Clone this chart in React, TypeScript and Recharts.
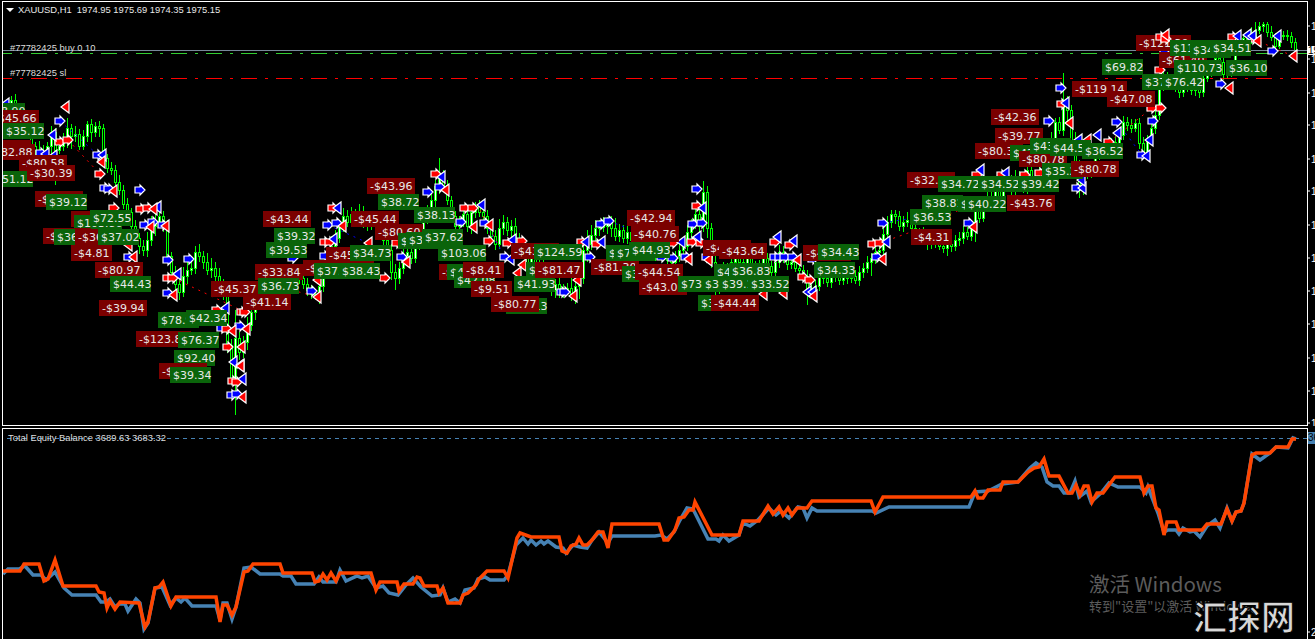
import React from "react";
import {
  Bar,
  ComposedChart,
  Line,
  ReferenceLine,
  Scatter,
  XAxis,
  YAxis,
} from "recharts";

const WIDTH = 1315;
const UI_FONT = '"Liberation Sans", sans-serif';
const TAG_FONT = '"DejaVu Sans", sans-serif';

// H1 candles, one every four quarter-hours on the time axis
const FIRST_TIME = 3;
const BAR_STEP = 4;

const closes = [
  1962.8,1963.6,1965.2,1964.0,1961.6,1960.0,1958.4,1956.0,1955.2,1954.0,
  1954.8,1956.0,1958.8,1955.2,1956.0,1957.2,1959.6,1958.0,1958.4,1956.0,
  1958.0,1960.4,1958.8,1960.0,1959.6,1953.6,1951.6,1951.2,1948.8,1947.2,
  1944.4,1942.8,1940.0,1937.6,1936.0,1935.2,1937.2,1940.0,1940.8,1942.0,
  1940.0,1934.0,1930.8,1928.4,1926.8,1930.0,1931.2,1931.6,1934.8,1934.0,
  1932.8,1931.2,1931.6,1930.0,1928.4,1926.4,1916.2,1909.6,1917.6,1914.8,
  1916.8,1920.2,1922.8,1925.2,1924.4,1926.0,1927.2,1927.6,1928.0,1928.8,
  1930.0,1930.8,1929.2,1930.4,1929.6,1928.4,1927.2,1926.4,1926.0,1928.0,
  1931.2,1932.8,1936.0,1937.6,1940.0,1942.0,1940.8,1942.4,1941.2,1942.8,
  1940.8,1940.0,1941.2,1940.0,1939.2,1937.2,1935.2,1930.8,1929.6,1931.6,
  1934.0,1934.8,1933.6,1936.4,1938.0,1941.6,1943.2,1945.2,1948.0,1950.0,
  1948.2,1945.2,1942.0,1940.0,1940.8,1942.4,1940.0,1942.8,1944.0,1942.8,
  1942.0,1939.6,1938.0,1936.4,1939.6,1940.8,1939.2,1940.0,1937.6,1936.0,
  1935.2,1932.8,1934.0,1931.6,1932.8,1930.0,1928.4,1927.2,1928.4,1926.8,
  1927.2,1927.6,1926.0,1928.0,1929.6,1935.2,1936.4,1938.2,1939.6,1940.0,
  1940.0,1940.8,1939.6,1938.0,1939.2,1937.6,1938.8,1937.2,1937.6,1936.0,
  1936.8,1935.2,1934.0,1934.8,1936.0,1934.4,1933.2,1932.8,1934.0,1935.2,
  1936.0,1938.8,1940.4,1942.4,1940.0,1946.8,1939.6,1932.8,1929.2,1928.0,
  1931.6,1930.0,1932.8,1934.8,1932.8,1931.2,1933.6,1932.0,1931.2,1932.0,
  1933.6,1932.0,1930.8,1932.8,1934.8,1933.6,1932.4,1932.8,1931.6,1931.2,
  1930.0,1927.2,1927.6,1928.0,1931.2,1929.6,1928.8,1930.0,1930.8,1929.2,
  1930.0,1929.6,1930.0,1929.2,1930.8,1931.6,1932.8,1933.6,1934.8,1935.2,
  1938.4,1940.8,1942.4,1942.0,1940.0,1940.8,1941.2,1939.6,1938.8,1938.8,
  1937.2,1936.4,1937.2,1936.8,1936.0,1935.6,1936.4,1936.0,1937.2,1937.6,
  1938.8,1938.0,1940.0,1943.6,1941.6,1944.8,1946.0,1945.6,1948.0,1946.0,
  1947.6,1949.2,1947.2,1950.0,1949.2,1947.6,1951.2,1949.6,1948.0,1950.4,
  1953.2,1955.6,1957.6,1960.8,1959.2,1965.2,1963.2,1957.2,1952.2,1947.2,
  1950.2,1950.8,1951.6,1954.2,1955.2,1955.2,1956.2,1956.8,1956.0,1958.2,
  1960.8,1960.2,1959.6,1960.6,1956.6,1954.8,1957.2,1959.6,1962.2,1968.2,
  1970.0,1969.2,1968.4,1967.6,1966.8,1968.0,1968.8,1967.2,1967.6,1966.8,
  1969.6,1970.8,1972.4,1973.6,1972.8,1970.4,1970.8,1972.4,1976.0,1976.8,
  1977.6,1977.2,1978.0,1979.2,1980.0,1980.4,1978.8,1977.8,1976.0,1978.0,
  1978.2,1978.0,1976.8,1975.15,
];

const opens = [
  1962.0,1962.8,1963.6,1965.2,1964.0,1961.6,1960.0,1958.4,1956.0,1955.2,
  1954.0,1954.8,1956.0,1958.8,1955.2,1956.0,1957.2,1959.6,1958.0,1958.4,
  1956.0,1958.0,1960.4,1958.8,1960.0,1959.6,1953.6,1951.6,1951.2,1948.8,
  1947.2,1944.4,1942.8,1940.0,1937.6,1936.0,1935.2,1937.2,1940.0,1940.8,
  1942.0,1940.0,1934.0,1930.8,1928.4,1926.8,1930.0,1931.2,1931.6,1934.8,
  1934.0,1932.8,1931.2,1931.6,1930.0,1928.4,1926.4,1916.2,1909.6,1917.6,
  1914.8,1916.8,1920.2,1922.8,1925.2,1924.4,1926.0,1927.2,1927.6,1928.0,
  1928.8,1930.0,1930.8,1929.2,1930.4,1929.6,1928.4,1927.2,1926.4,1926.0,
  1928.0,1931.2,1932.8,1936.0,1937.6,1940.0,1942.0,1940.8,1942.4,1941.2,
  1942.8,1940.8,1940.0,1941.2,1940.0,1939.2,1937.2,1935.2,1930.8,1929.6,
  1931.6,1934.0,1934.8,1933.6,1936.4,1938.0,1941.6,1943.2,1945.2,1948.0,
  1950.0,1948.2,1945.2,1942.0,1940.0,1940.8,1942.4,1940.0,1942.8,1944.0,
  1942.8,1942.0,1939.6,1938.0,1936.4,1939.6,1940.8,1939.2,1940.0,1937.6,
  1936.0,1935.2,1932.8,1934.0,1931.6,1932.8,1930.0,1928.4,1927.2,1928.4,
  1926.8,1927.2,1927.6,1926.0,1928.0,1929.6,1935.2,1936.4,1938.2,1939.6,
  1940.0,1940.0,1940.8,1939.6,1938.0,1939.2,1937.6,1938.8,1937.2,1937.6,
  1936.0,1936.8,1935.2,1934.0,1934.8,1936.0,1934.4,1933.2,1932.8,1934.0,
  1935.2,1936.0,1938.8,1940.4,1942.4,1940.0,1946.8,1939.6,1932.8,1929.2,
  1928.0,1931.6,1930.0,1932.8,1934.8,1932.8,1931.2,1933.6,1932.0,1931.2,
  1932.0,1933.6,1932.0,1930.8,1932.8,1934.8,1933.6,1932.4,1932.8,1931.6,
  1931.2,1930.0,1927.2,1927.6,1928.0,1931.2,1929.6,1928.8,1930.0,1930.8,
  1929.2,1930.0,1929.6,1930.0,1929.2,1930.8,1931.6,1932.8,1933.6,1934.8,
  1935.2,1938.4,1940.8,1942.4,1942.0,1940.0,1940.8,1941.2,1939.6,1938.8,
  1938.8,1937.2,1936.4,1937.2,1936.8,1936.0,1935.6,1936.4,1936.0,1937.2,
  1937.6,1938.8,1938.0,1940.0,1943.6,1941.6,1944.8,1946.0,1945.6,1948.0,
  1946.0,1947.6,1949.2,1947.2,1950.0,1949.2,1947.6,1951.2,1949.6,1948.0,
  1950.4,1953.2,1955.6,1957.6,1960.8,1959.2,1965.2,1963.2,1957.2,1952.2,
  1947.2,1950.2,1950.8,1951.6,1954.2,1955.2,1955.2,1956.2,1956.8,1956.0,
  1958.2,1960.8,1960.2,1959.6,1960.6,1956.6,1954.8,1957.2,1959.6,1962.2,
  1968.2,1970.0,1969.2,1968.4,1967.6,1966.8,1968.0,1968.8,1967.2,1967.6,
  1966.8,1969.6,1970.8,1972.4,1973.6,1972.8,1970.4,1970.8,1972.4,1976.0,
  1976.8,1977.6,1977.2,1978.0,1979.2,1980.0,1980.4,1978.8,1977.8,1976.0,
  1978.0,1978.2,1978.0,1976.8,
];

const highs = [
  1963.6,1965.2,1966.0,1966.4,1964.6,1962.8,1961.0,1959.8,1956.8,1957.0,
  1956.2,1956.8,1960.0,1959.6,1956.6,1958.6,1961.6,1960.4,1960.0,1959.4,
  1959.2,1961.0,1961.4,1960.8,1961.0,1960.4,1954.4,1952.8,1952.2,1950.2,
  1948.2,1945.6,1943.6,1941.2,1938.6,1937.2,1938.8,1942.0,1943.6,1943.6,
  1943.0,1941.2,1934.8,1932.0,1929.4,1931.8,1932.8,1932.8,1936.0,1936.4,
  1935.0,1934.6,1933.6,1932.8,1931.6,1929.4,1927.6,1917.4,1923.2,1918.8,
  1918.0,1921.8,1924.4,1926.4,1926.2,1927.2,1928.6,1928.6,1928.8,1930.0,
  1931.0,1932.0,1931.8,1931.6,1931.2,1930.6,1929.6,1928.2,1927.2,1929.2,
  1932.4,1934.2,1938.0,1939.2,1941.2,1943.6,1943.2,1943.8,1943.4,1944.4,
  1944.0,1941.8,1942.2,1942.4,1940.8,1940.4,1938.2,1936.4,1932.4,1932.8,
  1935.4,1936.0,1935.8,1937.6,1939.6,1942.8,1944.2,1946.6,1949.2,1953.6,
  1951.2,1949.2,1946.0,1943.0,1942.0,1944.0,1943.6,1943.8,1944.8,1945.2,
  1944.2,1943.2,1940.6,1939.2,1941.4,1942.2,1941.8,1941.2,1941.6,1938.6,
  1937.0,1936.4,1935.2,1935.0,1934.2,1934.0,1931.0,1929.6,1929.4,1929.6,
  1928.4,1928.6,1930.0,1929.6,1930.6,1936.6,1939.2,1940.2,1941.2,1941.2,
  1941.8,1941.8,1942.0,1941.6,1940.4,1940.2,1940.0,1940.4,1938.6,1938.8,
  1937.8,1938.0,1936.2,1935.6,1937.2,1937.0,1935.6,1934.0,1935.0,1936.4,
  1937.2,1940.2,1941.4,1943.8,1943.6,1949.0,1948.0,1940.6,1934.0,1930.2,
  1932.8,1932.6,1934.2,1936.0,1935.8,1933.8,1934.8,1935.0,1933.0,1933.2,
  1934.8,1934.6,1933.0,1934.0,1936.2,1936.0,1934.4,1933.8,1934.0,1932.6,
  1932.2,1931.2,1928.6,1929.2,1932.6,1932.4,1930.6,1931.2,1931.8,1932.0,
  1931.0,1930.8,1931.0,1931.2,1932.0,1932.6,1934.0,1934.6,1936.0,1936.2,
  1939.6,1942.0,1943.2,1943.2,1943.0,1942.0,1942.8,1942.4,1940.6,1939.6,
  1939.8,1938.0,1938.2,1938.4,1937.8,1936.8,1937.4,1937.6,1938.2,1938.8,
  1940.0,1939.8,1941.2,1944.4,1944.8,1945.8,1947.2,1947.0,1949.2,1949.4,
  1948.6,1950.4,1950.2,1951.2,1951.0,1950.4,1953.6,1952.2,1950.4,1952.0,
  1954.4,1956.6,1958.8,1961.6,1961.8,1970.6,1966.0,1964.2,1958.8,1953.2,
  1951.4,1951.8,1952.8,1955.0,1956.2,1956.4,1957.2,1957.6,1958.0,1959.4,
  1962.0,1961.8,1961.4,1961.4,1961.6,1957.8,1958.2,1960.8,1963.2,1969.4,
  1971.0,1970.8,1970.2,1969.2,1968.6,1968.8,1969.8,1970.0,1968.4,1968.6,
  1970.6,1972.0,1973.2,1974.6,1974.4,1974.0,1971.8,1973.2,1977.2,1977.8,
  1978.4,1978.8,1979.8,1980.8,1980.8,1980.8,1980.8,1980.0,1978.6,1979.0,
  1979.0,1979.2,1978.8,1977.6,
];

const lows = [
  1961.0,1962.2,1962.4,1963.2,1960.2,1959.4,1957.4,1955.2,1954.0,1953.4,
  1952.8,1952.4,1954.2,1948.2,1954.4,1955.0,1955.6,1955.4,1956.8,1955.2,
  1955.2,1956.8,1956.8,1957.8,1957.8,1953.0,1950.6,1950.2,1947.6,1946.2,
  1943.4,1941.8,1938.8,1936.6,1934.4,1934.0,1933.8,1936.0,1938.0,1939.8,
  1938.8,1933.0,1929.4,1927.2,1925.2,1925.8,1928.4,1930.2,1930.4,1932.8,
  1931.4,1930.2,1929.6,1928.8,1927.4,1925.2,1914.6,1908.4,1902.2,1913.2,
  1913.6,1915.2,1919.0,1921.2,1923.4,1923.6,1924.8,1926.2,1926.4,1927.0,
  1927.8,1928.8,1928.2,1928.4,1928.4,1927.4,1926.0,1925.4,1925.2,1924.4,
  1926.8,1929.6,1931.8,1934.8,1936.6,1938.8,1939.8,1939.8,1940.0,1940.0,
  1939.6,1939.0,1939.2,1939.0,1938.0,1936.2,1934.0,1929.2,1927.2,1928.4,
  1930.4,1933.0,1932.4,1932.6,1935.2,1936.4,1940.4,1942.0,1943.6,1946.4,
  1947.4,1944.2,1940.8,1939.0,1938.8,1939.8,1938.8,1938.4,1941.6,1941.8,
  1941.0,1938.4,1936.4,1935.2,1935.4,1938.2,1938.0,1937.6,1936.6,1934.4,
  1934.0,1931.8,1931.6,1930.6,1930.4,1928.6,1927.4,1926.0,1925.6,1925.6,
  1925.6,1926.2,1925.0,1924.4,1925.4,1928.4,1932.8,1935.2,1937.0,1938.0,
  1938.8,1938.4,1937.8,1937.0,1936.8,1936.6,1936.4,1936.2,1936.0,1934.4,
  1935.0,1934.0,1933.2,1933.0,1933.6,1933.2,1932.4,1931.6,1931.8,1932.8,
  1934.0,1935.0,1937.6,1939.4,1938.8,1938.8,1937.6,1931.6,1924.4,1926.4,
  1927.0,1928.8,1929.0,1931.6,1931.8,1930.4,1930.0,1931.0,1930.0,1930.2,
  1930.8,1931.0,1929.6,1929.8,1931.6,1932.6,1931.2,1931.4,1930.8,1930.0,
  1929.0,1924.2,1926.2,1926.4,1927.0,1928.4,1927.8,1927.6,1928.8,1928.2,
  1928.2,1928.4,1928.6,1928.4,1928.0,1929.6,1930.6,1930.0,1932.4,1933.2,
  1934.0,1937.4,1939.6,1940.4,1939.0,1938.8,1939.8,1938.8,1938.0,1937.2,
  1936.2,1935.2,1935.4,1935.6,1935.2,1934.6,1934.0,1934.8,1935.0,1936.0,
  1936.4,1937.2,1937.0,1936.8,1940.6,1940.8,1943.6,1944.6,1944.4,1945.0,
  1945.0,1946.8,1946.0,1946.2,1948.4,1946.6,1946.4,1948.6,1946.8,1947.0,
  1949.4,1952.0,1954.6,1956.4,1958.4,1958.0,1960.4,1954.0,1951.0,1945.6,
  1946.2,1949.4,1949.6,1950.6,1953.2,1954.4,1954.2,1955.0,1955.2,1954.8,
  1957.2,1959.0,1958.6,1958.8,1955.4,1953.8,1953.6,1956.2,1958.4,1961.2,
  1967.0,1968.2,1967.2,1966.8,1965.6,1965.8,1966.8,1966.2,1966.0,1965.6,
  1965.8,1968.8,1969.8,1971.2,1971.8,1969.2,1969.6,1969.8,1971.2,1975.2,
  1976.0,1976.2,1976.4,1977.0,1978.4,1978.8,1977.8,1977.0,1974.8,1975.4,
  1977.2,1977.0,1975.6,1973.6,
];

const priceTicks = [1980.0,1973.4,1966.6,1960.2,1953.4,1947.0,1940.2,1933.6,1927.0,1920.4,1913.6,1907.0,1900.6];

// profit tags, in the order they stack on screen
const tagTexts = [
  "$38.90","-$45.66","$35.12","-$80.78","-$82.88","-$80.58","$51.12","-$30.39","-$43.13","$39.12",
  "-$41.20","$103.86","$72.55","-$44.10","$36.20","-$36.60","$37.02","-$4.81","-$80.97","$44.43",
  "-$39.94","-$123.80","$78.90","$42.34","$76.37","$92.40","-$44.20","$39.34","-$45.37","-$43.44",
  "$39.32","$39.53","-$33.84","$36.73","-$41.14","-$45.44","-$45.20","-$43.10","$37.30","$38.43",
  "$34.73","-$80.60","$35.40","-$43.96","$38.72","$38.13","$35.90","$37.62","$103.06","-$41.30",
  "$41.35","$42.08","-$8.41","-$9.51","$41.13","-$80.77","-$43.20","$38.20","$41.93","$124.59",
  "-$81.47","-$81.30","$34.10","$38.60","$73.10","-$42.94","-$40.76","$44.93","-$43.05","-$44.54",
  "$73.40","$37.50","-$43.30","-$43.64","$41.70","$36.83","$39.10","$33.52","$35.20","-$44.44",
  "-$41.10","$34.43","$34.33","-$4.31","$36.53","$38.81","$39.40","$40.22","-$32.40","$34.72",
  "$34.52","$39.42","-$43.76","-$42.36","-$39.77","-$80.34","$43.20","-$80.78","$43.60","$44.58",
  "$36.52","$35.24","-$80.78","-$119.14","-$47.08","$69.82","-$121.30","-$61.40","$110.52","$34.80",
  "$34.51","$110.73","$36.10","$37.90","$76.42",
];
const tagTimes = [
  -16,-9,3,-17,-13,19,-8,27,35,46,
  71,74,90,43,54,75,98,71,95,110,
  99,136,158,186,178,174,159,170,211,263,
  274,266,255,258,243,351,326,303,314,339,
  350,375,398,367,378,414,406,422,438,439,
  447,454,463,471,506,491,511,526,514,534,
  535,591,622,606,614,627,631,629,639,635,
  678,702,703,719,714,729,719,748,698,711,
  803,818,814,911,910,922,958,965,907,938,
  978,1018,1007,991,995,975,1010,1019,1030,1050,
  1082,1042,1071,1072,1107,1102,1136,1159,1170,1190,
  1210,1174,1226,1142,1162,
];
const tagPrices = [
  1963.0,1961.6,1959.0,1955.6,1954.8,1952.6,1949.4,1950.6,1945.4,1944.8,
  1941.4,1940.6,1941.6,1938.0,1937.8,1937.8,1937.8,1934.6,1931.2,1928.4,
  1923.6,1917.4,1921.2,1921.6,1917.2,1913.6,1911.0,1910.2,1927.4,1941.4,
  1938.0,1935.2,1930.8,1928.0,1924.8,1941.4,1934.2,1931.6,1931.0,1931.0,
  1934.6,1938.8,1937.0,1948.0,1944.8,1942.2,1937.2,1937.8,1934.6,1930.8,
  1930.8,1929.2,1931.2,1927.4,1924.0,1924.4,1935.0,1931.2,1928.4,1934.8,
  1931.2,1931.8,1930.4,1934.6,1934.6,1941.6,1938.4,1935.2,1927.8,1930.8,
  1928.4,1928.4,1935.6,1935.0,1930.8,1931.0,1928.4,1928.4,1924.6,1924.6,
  1934.6,1934.8,1931.2,1937.8,1941.8,1944.6,1944.4,1944.4,1949.2,1948.4,
  1948.4,1948.4,1944.6,1961.8,1958.0,1955.0,1954.6,1953.4,1956.0,1955.6,
  1955.0,1951.0,1951.4,1967.4,1965.4,1971.8,1976.6,1973.2,1975.6,1975.2,
  1975.6,1971.6,1971.6,1968.8,1968.8,
];
// tags before this index sit under the last cluster of arrows
const TAGS_UNDER_LATE_ARROWS = 107;

// trade arrows on the price chart
const blueRightTimes = [60,41,98,105,109,140,145,153,163,129,168,189,168,240,222,232,237,328,337,325,293,312,402,440,428,461,485,505,562,565,590,601,609,662,673,686,693,702,697,707,775,780,785,793,813,883,877,969,1077,1061,1049,1117,1142,1153,1165,1221,1273];
const blueRightPrices = [1961.0,1954.6,1954.2,1947.6,1947.4,1947.2,1940.2,1940.8,1940.2,1933.8,1933.2,1933.4,1926.6,1920.0,1919.6,1906.2,1906.4,1940.2,1940.6,1934.0,1933.6,1927.0,1933.8,1947.8,1946.8,1940.8,1940.6,1933.8,1926.8,1926.8,1933.8,1940.4,1941.0,1933.8,1933.6,1933.8,1940.4,1940.6,1947.4,1933.8,1933.8,1933.8,1933.8,1933.8,1933.4,1940.6,1933.8,1940.6,1947.6,1967.6,1961.0,1960.8,1954.2,1961.0,1975.2,1968.4,1975.0];

const blueLeftTimes = [5,52,45,53,102,157,177,225,233,240,242,337,333,441,481,512,510,585,601,681,697,702,777,793,807,812,886,980,1005,1082,1081,1065,1078,1097,1117,1146,1149,1237,1247,1252,1277];
const blueLeftPrices = [1964.4,1958.2,1954.4,1954.0,1954.2,1943.8,1930.4,1923.6,1912.8,1912.2,1909.4,1943.6,1937.4,1949.8,1944.2,1937.2,1933.4,1936.8,1936.8,1936.8,1937.8,1943.6,1937.8,1937.0,1926.8,1926.8,1936.8,1951.2,1950.6,1947.6,1949.2,1964.6,1957.2,1958.2,1958.6,1954.0,1957.2,1978.0,1978.2,1978.0,1978.0];

const redRightTimes = [60,68,100,141,148,114,333,436,325,330,397,168,173,217,242,245,227,228,233,237,385,465,473,489,508,522,582,597,673,692,701,697,775,790,803,810,873,880,977,1002,1025,1040,1062,1109,1152,1161,1160,1233,1253];
const redRightPrices = [1956.8,1957.2,1950.4,1943.4,1943.6,1943.6,1943.6,1950.4,1936.8,1936.8,1936.6,1929.6,1929.6,1923.2,1922.8,1922.8,1919.4,1915.8,1909.0,1908.8,1929.6,1943.6,1943.6,1937.0,1936.6,1937.0,1936.8,1936.4,1936.6,1936.8,1936.6,1944.0,1936.8,1936.2,1929.8,1929.2,1936.4,1936.6,1950.2,1950.2,1950.2,1950.6,1964.4,1956.8,1963.6,1963.6,1971.2,1977.8,1977.4];

const redLeftTimes = [65,101,113,153,150,165,128,133,173,246,232,241,240,242,342,310,317,317,368,406,445,473,489,522,517,577,573,688,708,797,813,763,783,882,973,1069,1087,1229,1257,1293];
const redLeftPrices = [1963.8,1952.8,1947.0,1943.4,1939.8,1940.0,1936.2,1933.8,1926.2,1919.4,1919.0,1915.8,1912.0,1905.8,1940.0,1931.6,1929.2,1925.8,1936.6,1932.8,1947.2,1939.8,1940.2,1932.2,1930.6,1929.2,1926.0,1933.4,1933.2,1933.2,1926.0,1926.4,1926.6,1933.4,1939.8,1960.6,1957.2,1967.6,1977.0,1974.0];

// arrows of the last trades, which sit on top of the "-$121.30" tag
const lateRedRightTimes = [1161,1166];
const lateRedRightPrices = [1977.8,1977.4];
const lateRedLeftTimes = [1165];
const lateRedLeftPrices = [1978.2];

// dotted links between a trade's open and close: [time, price, time, price]
const redLinks = [
  [68,1957.2,100,1950.4],[173,1929.6,245,1922.8],[285,1927.6,317,1925.8],[480,1943.2,500,1935.6],
  [880,1936.6,911,1938.8],[930,1940.8,972,1944.2],[1109,1956.8,1152,1963.6],[1253,1977.4,1293,1974.0],
];
const blueLinks = [
  [60,1961.0,98,1954.2],[1117,1960.8,1142,1954.2],[883,1940.6,907,1941.4],[485,1940.6,505,1933.8],
  [609,1941.0,627,1939.6],[328,1940.2,368,1936.6],
];

const bidPrice = 1975.15;
const buyPrice = 1974.6;
const stopPrice = 1969.6;

const equityTimes = [
  3,8,19,25,33,41,46,55,64,72,96,101,106,110,115,119,125,128,136,140,
  144,148,155,162,170,176,181,185,192,216,220,223,227,232,236,244,251,260,280,283,
  291,296,314,319,323,336,340,346,357,362,368,376,383,389,398,406,413,421,432,440,
  443,448,455,460,465,474,478,485,490,504,508,516,523,528,531,536,541,544,548,556,
  563,566,573,580,587,592,599,608,612,655,661,667,674,680,687,693,708,716,719,723,
  729,739,743,750,758,769,776,781,789,798,803,807,812,817,872,876,889,969,975,988,
  994,1002,1018,1030,1036,1042,1047,1053,1059,1064,1070,1075,1079,1087,1091,1101,1109,1118,1140,1146,
  1148,1158,1164,1168,1176,1179,1183,1190,1194,1200,1207,1215,1220,1227,1232,1236,1241,1244,1252,1260,
  1270,1276,1288,1293,1296,
];
const equityValues = [
  3010,3035,3035,3050,3005,3005,2980,3020,2940,2905,2905,2870,2870,2885,2845,2860,2860,2825,2885,2865,
  2735,2765,2940,2945,2855,2890,2870,2890,2850,2850,2780,2865,2865,2785,2845,3040,3045,3010,3010,3000,
  3000,2960,2960,2995,2970,2970,3030,2975,3000,2990,3000,2940,2950,2915,2905,2955,2990,2945,2900,2905,
  2940,2870,2885,2865,2930,2940,2985,2995,2980,2980,3005,3155,3190,3160,3180,3155,3175,3160,3175,3145,
  3140,3115,3155,3145,3140,3180,3220,3165,3200,3200,3205,3185,3220,3280,3340,3335,3185,3185,3175,3205,
  3175,3205,3265,3250,3280,3340,3305,3325,3290,3345,3340,3290,3340,3325,3325,3315,3345,3345,3420,3425,
  3440,3460,3470,3540,3565,3545,3470,3450,3450,3415,3415,3475,3395,3425,3370,3415,3465,3445,3445,3415,
  3445,3315,3220,3230,3230,3210,3240,3220,3225,3195,3250,3280,3240,3340,3275,3320,3325,3365,3610,3580,
  3615,3645,3640,3690,3685,
];

const balanceTimes = [
  3,20,24,39,44,48,55,63,96,99,104,107,110,115,120,139,145,148,155,159,
  163,171,176,216,220,223,227,232,236,244,248,253,280,283,312,315,319,323,327,331,
  336,340,371,376,380,397,399,404,413,417,420,424,437,439,443,448,460,463,468,476,
  479,487,504,508,517,520,531,559,562,567,571,576,579,583,587,592,598,603,608,612,
  655,659,664,668,675,679,684,689,693,695,712,739,743,759,768,773,779,783,788,792,
  797,807,812,871,875,883,971,975,978,983,988,1000,1003,1018,1028,1034,1039,1044,1049,1059,
  1068,1072,1076,1080,1084,1088,1092,1097,1103,1115,1140,1144,1148,1152,1156,1159,1164,1167,1176,1179,
  1202,1207,1221,1227,1232,1236,1241,1244,1252,1256,1270,1276,1288,1292,1296,
];
const balanceValues = [
  3025,3025,3060,3060,2975,2985,3080,2950,2950,2920,2915,2840,2875,2835,2870,2865,2745,2770,2940,2945,
  2970,2850,2895,2895,2770,2855,2855,2805,2845,3020,3025,3060,3060,3015,3015,2970,2975,3010,2980,3015,
  2975,3015,3015,2930,2970,2970,2925,2960,2960,2995,2990,2950,2950,2915,2940,2865,2865,2905,2915,2955,
  2985,3025,3025,2990,3190,3215,3195,3195,3125,3115,3150,3160,3190,3155,3155,3180,3220,3220,3140,3260,
  3260,3260,3180,3180,3230,3290,3295,3330,3330,3370,3205,3205,3275,3275,3350,3310,3345,3305,3340,3305,
  3340,3340,3375,3375,3320,3395,3395,3425,3390,3390,3430,3430,3470,3470,3520,3540,3545,3585,3500,3500,
  3415,3415,3455,3405,3450,3450,3370,3415,3415,3495,3495,3415,3450,3450,3340,3330,3205,3270,3270,3230,
  3230,3260,3260,3335,3275,3320,3325,3365,3605,3615,3615,3645,3645,3685,3685,
];
const equityLevel = 3689.63;
const equityTicks = [2720];

const candleRows = closes.map((close, i) => ({
  t: FIRST_TIME + i * BAR_STEP,
  range: [lows[i], highs[i]],
  open: opens[i],
  close,
  low: lows[i],
  high: highs[i],
}));

const toPoints = (times: number[], prices: number[]) =>
  times.map((t, i) => ({ t, price: prices[i] }));

const tagRows = tagTexts.map((text, i) => ({
  t: tagTimes[i],
  price: tagPrices[i],
  text,
}));

const equityRows = equityTimes.map((t, i) => ({ t, equity: equityValues[i] }));
const balanceRows = balanceTimes.map((t, i) => ({ t, equity: balanceValues[i] }));

function CandleShape(props: any) {
  const { x, y, width, height, payload } = props;
  const h = Math.abs(height);
  const perDollar = h / (payload.high - payload.low || 1);
  const top = Math.min(y, y + height);
  const mid = Math.round(x + width / 2) + 0.5;
  const bodyTop = top + (payload.high - Math.max(payload.open, payload.close)) * perDollar;
  const bodyH = Math.abs(payload.open - payload.close) * perDollar;
  const bullish = payload.close >= payload.open;
  return (
    <g shapeRendering="crispEdges">
      <line x1={mid} x2={mid} y1={top} y2={top + h} stroke="#00ff00" />
      <rect
        x={mid - 1}
        y={bodyTop}
        width={2}
        height={Math.max(bodyH, 1)}
        fill={bullish ? "#ffffff" : "#000000"}
        stroke="#00ff00"
      />
    </g>
  );
}

function RightArrow({ cx, cy, fill }: any) {
  const d = [[-5,-3],[0,-3],[0,-5],[5,0],[0,5],[0,3],[-5,3]]
    .map(([px, py]) => `${cx + px},${cy + py}`)
    .join(" ");
  return <polygon points={d} fill={fill} stroke="#ffffff" strokeWidth={1.2} />;
}

function LeftTriangle({ cx, cy, fill }: any) {
  const d = [[4,-6],[4,6],[-4,0]]
    .map(([px, py]) => `${cx + px},${cy + py}`)
    .join(" ");
  return <polygon points={d} fill={fill} stroke="#ffffff" strokeWidth={1.2} />;
}

function ProfitTag({ cx, cy, payload }: any) {
  const loss = payload.text.startsWith("-");
  return (
    <g>
      <rect
        x={cx}
        y={cy - 8}
        width={payload.text.length * 7 - 1}
        height={16}
        fill={loss ? "#7b0000" : "#0a640a"}
        shapeRendering="crispEdges"
      />
      <text x={cx + 3} y={cy + 4} fontSize={11} fontFamily={TAG_FONT} fill="#e8e8e8">
        {payload.text}
      </text>
    </g>
  );
}

function Frame({ left, top, width, height, color = "#ffffff" }: any) {
  return (
    <div
      style={{ position: "absolute", left, top, width, height, background: color }}
    />
  );
}

function Caption({ left, top, children, color = "#dddddd", size = 9.4 }: any) {
  return (
    <div
      style={{
        position: "absolute",
        left,
        top,
        color,
        fontSize: size,
        fontFamily: UI_FONT,
        whiteSpace: "pre",
        lineHeight: "12px",
      }}
    >
      {children}
    </div>
  );
}

export default function App() {
  return (
    <div
      style={{
        position: "fixed",
        left: 0,
        top: 0,
        width: WIDTH,
        height: 639,
        overflow: "hidden",
        background: "#000000",
      }}
    >
      {/* price panel */}
      <div style={{ position: "absolute", left: 0, top: 0 }}>
        <ComposedChart
          width={WIDTH}
          height={426}
          data={candleRows}
          margin={{ top: 0, right: 0, bottom: 0, left: 0 }}
        >
          <XAxis
            type="number"
            dataKey="t"
            scale="linear"
            domain={[0, 1307]}
            allowDataOverflow
            hide
          />
          <YAxis
            orientation="right"
            dataKey="price"
            width={8}
            domain={[1900, 1985.2]}
            allowDataOverflow
            ticks={priceTicks}
            interval={0}
            axisLine={false}
            tickSize={3}
            tickMargin={1}
            tickLine={{ stroke: "#ffffff" }}
            tickFormatter={(v: number) => v.toFixed(2)}
            tick={{ fill: "#ffffff", fontSize: 10, fontFamily: UI_FONT }}
          />
          <ReferenceLine y={bidPrice} stroke="#778899" shapeRendering="crispEdges" />
          <ReferenceLine y={buyPrice} stroke="#32cd32" strokeDasharray="16 8 3 8" shapeRendering="crispEdges" />
          <ReferenceLine y={stopPrice} stroke="#ff0000" strokeDasharray="16 8 3 8" shapeRendering="crispEdges" />
          {redLinks.map(([t1, p1, t2, p2], i) => (
            <ReferenceLine
              key={`red-${i}`}
              segment={[{ x: t1, y: p1 }, { x: t2, y: p2 }]}
              stroke="#ff0000"
              strokeDasharray="2 5"
            />
          ))}
          {blueLinks.map(([t1, p1, t2, p2], i) => (
            <ReferenceLine
              key={`blue-${i}`}
              segment={[{ x: t1, y: p1 }, { x: t2, y: p2 }]}
              stroke="#0000ff"
              strokeDasharray="2 5"
            />
          ))}
          <Bar
            dataKey="range"
            barSize={4}
            isAnimationActive={false}
            shape={(p: any) => <CandleShape {...p} />}
          />
          <Scatter
            data={toPoints(blueRightTimes, blueRightPrices)}
            isAnimationActive={false}
            shape={(p: any) => <RightArrow {...p} fill="#0000ff" />}
          />
          <Scatter
            data={toPoints(redRightTimes, redRightPrices)}
            isAnimationActive={false}
            shape={(p: any) => <RightArrow {...p} fill="#ff0000" />}
          />
          <Scatter
            data={toPoints(blueLeftTimes, blueLeftPrices)}
            isAnimationActive={false}
            shape={(p: any) => <LeftTriangle {...p} fill="#0000ff" />}
          />
          <Scatter
            data={toPoints(redLeftTimes, redLeftPrices)}
            isAnimationActive={false}
            shape={(p: any) => <LeftTriangle {...p} fill="#ff0000" />}
          />
          <Scatter
            data={tagRows.slice(0, TAGS_UNDER_LATE_ARROWS)}
            isAnimationActive={false}
            shape={(p: any) => <ProfitTag {...p} />}
          />
          <Scatter
            data={toPoints(lateRedRightTimes, lateRedRightPrices)}
            isAnimationActive={false}
            shape={(p: any) => <RightArrow {...p} fill="#ff0000" />}
          />
          <Scatter
            data={toPoints(lateRedLeftTimes, lateRedLeftPrices)}
            isAnimationActive={false}
            shape={(p: any) => <LeftTriangle {...p} fill="#ff0000" />}
          />
          <Scatter
            data={tagRows.slice(TAGS_UNDER_LATE_ARROWS)}
            isAnimationActive={false}
            shape={(p: any) => <ProfitTag {...p} />}
          />
        </ComposedChart>
      </div>

      {/* equity panel */}
      <div style={{ position: "absolute", left: 0, top: 425 }}>
        <ComposedChart
          width={WIDTH}
          height={214}
          margin={{ top: 0, right: 0, bottom: 0, left: 0 }}
        >
          <XAxis
            type="number"
            dataKey="t"
            scale="linear"
            domain={[0, 1307]}
            allowDataOverflow
            hide
          />
          <YAxis
            orientation="right"
            width={8}
            domain={[2685, 3755]}
            allowDataOverflow
            ticks={equityTicks}
            interval={0}
            axisLine={false}
            tickSize={3}
            tickMargin={1}
            tickLine={{ stroke: "#ffffff" }}
            tickFormatter={(v: number) => v.toFixed(2)}
            tick={{ fill: "#ffffff", fontSize: 10, fontFamily: UI_FONT }}
          />
          <ReferenceLine y={equityLevel} stroke="#4682b4" strokeDasharray="4 4" shapeRendering="crispEdges" />
          <Line
            data={equityRows}
            dataKey="equity"
            type="linear"
            stroke="#4682b4"
            strokeWidth={3.5}
            dot={false}
            isAnimationActive={false}
          />
          <Line
            data={balanceRows}
            dataKey="equity"
            type="linear"
            stroke="#ff4500"
            strokeWidth={3.5}
            dot={false}
            isAnimationActive={false}
          />
        </ComposedChart>
      </div>

      {/* window frame */}
      <Frame left={0} top={0} width={2} height={639} color="#000000" />
      <Frame left={2} top={1} width={1306} height={1} />
      <Frame left={2} top={1} width={1} height={425} />
      <Frame left={1307} top={1} width={1} height={425} />
      <Frame left={2} top={425} width={1306} height={1} />
      <Frame left={2} top={428} width={1306} height={1} />
      <Frame left={2} top={428} width={1} height={211} />
      <Frame left={1307} top={428} width={1} height={211} />

      <div
        style={{
          position: "absolute",
          left: 6,
          top: 8,
          width: 0,
          height: 0,
          borderLeft: "4px solid transparent",
          borderRight: "4px solid transparent",
          borderTop: "4px solid #ffffff",
        }}
      />
      <Caption left={18} top={4} color="#e8e8e8">XAUUSD,H1  1974.95 1975.69 1974.35 1975.15</Caption>
      <Caption left={10} top={42}>#77782425 buy 0.10</Caption>
      <Caption left={10} top={67}>#77782425 sl</Caption>
      <Caption left={8} top={432}>Total Equity Balance 3689.63 3683.32</Caption>

      <div style={{ position: "absolute", left: 1308, top: 46, width: 7, height: 9, background: "#ffffff", color: "#000", fontSize: 10, lineHeight: "9px", fontFamily: UI_FONT, overflow: "hidden" }}>1975.15</div>
      <div style={{ position: "absolute", left: 1308, top: 432, width: 7, height: 12, background: "#4682b4", color: "#000", fontSize: 10, lineHeight: "12px", fontFamily: UI_FONT, overflow: "hidden" }}>3689.63</div>

      {/* watermarks left on the screenshot */}
      <div style={{ position: "absolute", left: 1089, top: 570, color: "#5c5c5c", fontSize: 20.5, fontFamily: '"Noto Sans CJK SC", sans-serif', whiteSpace: "nowrap", lineHeight: "26px" }}>激活 Windows</div>
      <div style={{ position: "absolute", left: 1089, top: 598, color: "#5c5c5c", fontSize: 13, fontFamily: '"Noto Sans CJK SC", sans-serif', whiteSpace: "nowrap", lineHeight: "16px" }}>转到"设置"以激活 Windows。</div>
      <div style={{ position: "absolute", left: 1193, top: 596, color: "#d8d8d8", fontSize: 34, fontWeight: 700, fontFamily: '"Noto Sans CJK SC", sans-serif', whiteSpace: "nowrap", lineHeight: "40px", WebkitTextStroke: "1px #000" }}>汇探网</div>
    </div>
  );
}
